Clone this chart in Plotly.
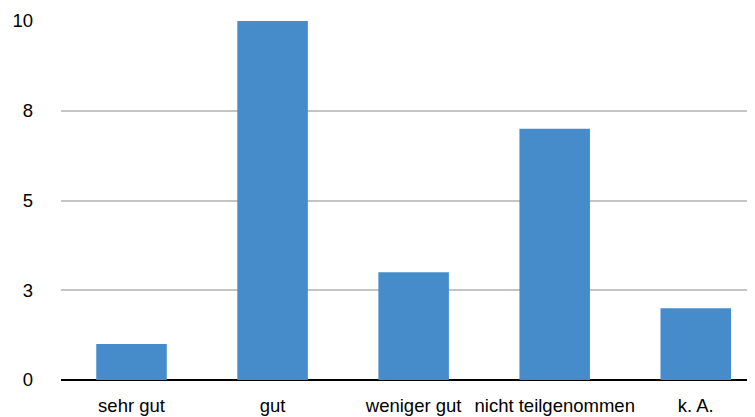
import plotly.graph_objects as go

categories = ["sehr gut", "gut", "weniger gut", "nicht teilgenommen", "k. A."]
values = [1, 10, 3, 7, 2]
tick_vals = [0, 2.5, 5, 7.5, 10]
tick_text = ["0", "3", "5", "8", "10"]

fig = go.Figure(go.Bar(
    x=list(range(len(categories))),
    y=values,
    width=0.5,
    marker=dict(color="#468cca", line=dict(width=0)),
))

# page body adds an 8px offset, so the figure is 8px smaller each way
fig.update_layout(
    width=747, height=409,
    margin=dict(l=53, r=0, t=13, b=37),
    paper_bgcolor="white", plot_bgcolor="white",
    font=dict(family="Liberation Sans, Arial, sans-serif", size=18.5, color="black"),
    showlegend=False,
)
fig.update_xaxes(
    range=[-0.5, 4.42],
    tickvals=list(range(len(categories))),
    ticktext=categories,
    showgrid=False, zeroline=False,
    showline=False, ticks="",
    ticklabelstandoff=12,
    automargin=False,
)
fig.update_yaxes(
    range=[0, 10],
    tickvals=tick_vals, ticktext=tick_text,
    showgrid=True, gridcolor="#c4c4c4", gridwidth=1.5,
    zeroline=True, zerolinecolor="black", zerolinewidth=1.5,
    showline=False, ticks="",
    ticklabelstandoff=27,
    automargin=False,
)

fig.write_html("out.html")
